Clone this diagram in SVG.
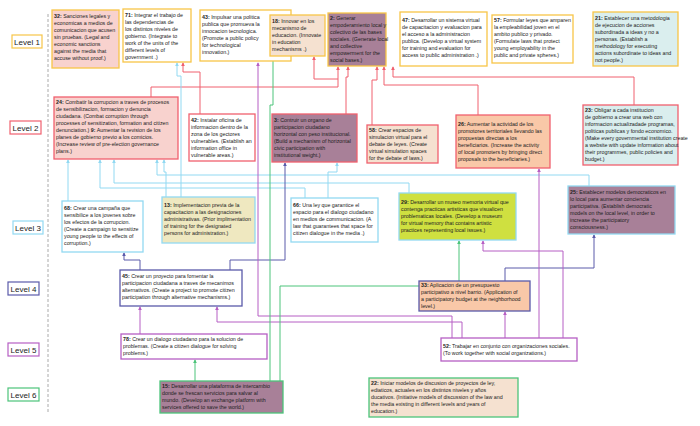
<svg xmlns="http://www.w3.org/2000/svg" width="700" height="426" viewBox="0 0 700 426">
<style>
.t{font-family:"Liberation Sans",Arial,sans-serif;font-size:5.3px;fill:#222}
.b{font-weight:bold}
.lv{font-family:"Liberation Sans",Arial,sans-serif;font-size:8px;fill:#222;text-anchor:middle}
.n{stroke-width:1.3}
.or{stroke:#f7c548}.rd{stroke:#f0606e}.lb{stroke:#92d9f2}.db{stroke:#5a5aaa}.pu{stroke:#b65fc4}.gr{stroke:#4cc47a}
.c{fill:none;stroke-width:1}
</style>
<defs>
<marker id="mr" viewBox="0 0 6 6" refX="5" refY="3" markerWidth="4" markerHeight="4" orient="auto"><path d="M0,0L6,3L0,6z" fill="#f0606e"/></marker>
<marker id="mb" viewBox="0 0 6 6" refX="5" refY="3" markerWidth="4" markerHeight="4" orient="auto"><path d="M0,0L6,3L0,6z" fill="#92d9f2"/></marker>
<marker id="md" viewBox="0 0 6 6" refX="5" refY="3" markerWidth="4" markerHeight="4" orient="auto"><path d="M0,0L6,3L0,6z" fill="#5a5aaa"/></marker>
<marker id="mp" viewBox="0 0 6 6" refX="5" refY="3" markerWidth="4" markerHeight="4" orient="auto"><path d="M0,0L6,3L0,6z" fill="#b65fc4"/></marker>
<marker id="mg" viewBox="0 0 6 6" refX="5" refY="3" markerWidth="4" markerHeight="4" orient="auto"><path d="M0,0L6,3L0,6z" fill="#4cc47a"/></marker>
</defs>
<rect width="700" height="426" fill="#fff"/>
<line x1="48" y1="14" x2="48" y2="412" stroke="#aaa" stroke-dasharray="3,2"/>
<g id="levels" fill="#fff" stroke-width="1.2">
<rect x="12" y="35" width="30" height="13" class="or"/><text x="27" y="44.5" class="lv">Level 1</text>
<rect x="10" y="121" width="31" height="13" class="rd"/><text x="25.5" y="130.5" class="lv">Level 2</text>
<rect x="13" y="221" width="30" height="13" class="lb"/><text x="28" y="230.5" class="lv">Level 3</text>
<rect x="8" y="282" width="31" height="13" class="db"/><text x="23.5" y="291.5" class="lv">Level 4</text>
<rect x="8" y="343" width="31" height="13" class="pu"/><text x="23.5" y="352.5" class="lv">Level 5</text>
<rect x="8" y="388" width="31" height="13" class="gr"/><text x="23.5" y="397.5" class="lv">Level 6</text>
</g>
<g id="connectors">
<path class="c rd" marker-end="url(#mr)" d="M200,114V72H183V63"/>
<path class="c rd" marker-end="url(#mr)" d="M151,97V87H338V67"/>
<path class="c rd" marker-end="url(#mr)" d="M338,79H314V57"/>
<path class="c rd" marker-end="url(#mr)" d="M346,114V77H348V67"/>
<path class="c rd" marker-end="url(#mr)" d="M372,125V80H377V67"/>
<path class="c rd" marker-end="url(#mr)" d="M478,115V85H384V67"/>
<path class="c rd" marker-end="url(#mr)" d="M634,105V77H393V67"/>
<path class="c lb" marker-end="url(#mb)" d="M181,197V76H177V63"/>
<path class="c lb" marker-end="url(#mb)" d="M68,201V160"/>
<path class="c lb" marker-end="url(#mb)" d="M305,198V188H100V160"/>
<path class="c lb" marker-end="url(#mb)" d="M409,193V183H114V160"/>
<path class="c lb" marker-end="url(#mb)" d="M589,186V175H157V160"/>
<path class="c lb" marker-end="url(#mb)" d="M166,197V172H164V160"/>
<path class="c lb" marker-end="url(#mb)" d="M328,198V172H337V163"/>
<path class="c db" marker-end="url(#md)" d="M140,270V260H124V253"/>
<path class="c db" marker-end="url(#md)" d="M230,270V260H285V163"/>
<path class="c db" marker-end="url(#md)" d="M505,281V268H594V235"/>
<path class="c pu" marker-end="url(#mp)" d="M452,338V316H258V63"/>
<path class="c pu" marker-end="url(#mp)" d="M462,338V322H217V307"/>
<path class="c pu" marker-end="url(#mp)" d="M140,334V307"/>
<path class="c pu" marker-end="url(#mp)" d="M505,338V312"/>
<path class="c pu" marker-end="url(#mp)" d="M539,338V169"/>
<path class="c pu" marker-end="url(#mp)" d="M563,338V251H483V241"/>
<path class="c gr" marker-end="url(#mg)" d="M270,381V105H273V57"/>
<path class="c gr" marker-end="url(#mg)" d="M280,381V286H459V241"/>
<path class="c gr" marker-end="url(#mg)" d="M195,381V360"/>
</g>
<g id="n32"><rect x="52" y="10" width="67" height="58" fill="#f8d2ce" class="n or"/><text class="t"><tspan x="54" y="18"><tspan class="b">32:</tspan> Sanciones legales y</tspan><tspan x="54" dy="7">economicas a medios de</tspan><tspan x="54" dy="7">comunicacion que acusen</tspan><tspan x="54" dy="7">sin pruebas. (Legal and</tspan><tspan x="54" dy="7">economic sanctions</tspan><tspan x="54" dy="7">against the media that</tspan><tspan x="54" dy="7">accuse without proof.)</tspan></text></g>
<g id="n71"><rect x="123" y="9" width="68" height="53" fill="#fff" class="n or"/><text class="t"><tspan x="125" y="17"><tspan class="b">71:</tspan> Integrar el trabajo de</tspan><tspan x="125" dy="7">las dependencias de</tspan><tspan x="125" dy="7">los distintos niveles de</tspan><tspan x="125" dy="7">gobierno. (Integrate to</tspan><tspan x="125" dy="7">work of the units of the</tspan><tspan x="125" dy="7">different levels of</tspan><tspan x="125" dy="7">government .)</tspan></text></g>
<g id="n43"><rect x="200" y="10" width="91" height="51" fill="#fff" class="n or"/><text class="t"><tspan x="202" y="19"><tspan class="b">43:</tspan> Impulsar una politica</tspan><tspan x="202" dy="7">publica que promueva la</tspan><tspan x="202" dy="7">innocacion tecnologica.</tspan><tspan x="202" dy="7">(Promote a public policy</tspan><tspan x="202" dy="7">for technological</tspan><tspan x="202" dy="7">innovation.)</tspan></text></g>
<g id="n18"><rect x="270" y="15" width="55" height="41" fill="#f5e1d0" class="n or"/><text class="t"><tspan x="272" y="23"><tspan class="b">18:</tspan> Innovar en los</tspan><tspan x="272" dy="7">mecanismo de</tspan><tspan x="272" dy="7">educacion. (Innovate</tspan><tspan x="272" dy="7">in education</tspan><tspan x="272" dy="7">mechanisms .)</tspan></text></g>
<g id="n2"><rect x="328" y="13" width="58" height="53" fill="#a88098" class="n or"/><text class="t"><tspan x="330" y="20"><tspan class="b">2:</tspan> Generar</tspan><tspan x="330" dy="7">empoderamiento local y</tspan><tspan x="330" dy="7">colectivo de las bases</tspan><tspan x="330" dy="7">sociales. (Generate local</tspan><tspan x="330" dy="7">and collective</tspan><tspan x="330" dy="7">empowerment for the</tspan><tspan x="330" dy="7">social bases.)</tspan></text></g>
<g id="n47"><rect x="400" y="12" width="87" height="54" fill="#fff" class="n or"/><text class="t"><tspan x="402" y="22"><tspan class="b">47:</tspan> Desarrollar un sistema virtual</tspan><tspan x="402" dy="7">de capacitacion y evaluacion para</tspan><tspan x="402" dy="7">el acceso a la administracion</tspan><tspan x="402" dy="7">publica. (Develop a virtual system</tspan><tspan x="402" dy="7">for training and evaluation for</tspan><tspan x="402" dy="7">access to public administration .)</tspan></text></g>
<g id="n57"><rect x="492" y="15" width="81" height="48" fill="#fff" class="n or"/><text class="t"><tspan x="494" y="22"><tspan class="b">57:</tspan> Formular leyes que amparen</tspan><tspan x="494" dy="7">la empleabilidad joven en el</tspan><tspan x="494" dy="7">ambito publico y privado.</tspan><tspan x="494" dy="7">(Formulate laws that protect</tspan><tspan x="494" dy="7">young employability in the</tspan><tspan x="494" dy="7">public and private spheres.)</tspan></text></g>
<g id="n21"><rect x="593" y="12" width="85" height="54" fill="#daeeee" class="n or"/><text class="t"><tspan x="595" y="20"><tspan class="b">21:</tspan> Establecer una metodologia</tspan><tspan x="595" dy="7">de ejecucion de acciones</tspan><tspan x="595" dy="7">subordinada a ideas y no a</tspan><tspan x="595" dy="7">personas. (Establish a</tspan><tspan x="595" dy="7">methodology for executing</tspan><tspan x="595" dy="7">actions subordinate to ideas and</tspan><tspan x="595" dy="7">not people.)</tspan></text></g>
<g id="n24"><rect x="54" y="97" width="124" height="62" fill="#f8d2ce" class="n rd"/><text class="t"><tspan x="56" y="104"><tspan class="b">24:</tspan> Combatir la corrupcion a traves de procesos</tspan><tspan x="56" dy="7">de sensibilizacion, formacion y denuncia</tspan><tspan x="56" dy="7">ciudadana. (Combat corruption through</tspan><tspan x="56" dy="7">processes of sensitization, formation and citizen</tspan><tspan x="56" dy="7">denunciation.) <tspan class="b">9:</tspan> Aumentar la revision de los</tspan><tspan x="56" dy="7">planes de gobierno previo a los comicios.</tspan><tspan x="56" dy="7">(Increase review of pre-election governance</tspan><tspan x="56" dy="7">plans.)</tspan></text></g>
<g id="n42"><rect x="189" y="114" width="66" height="47" fill="#fff" class="n rd"/><text class="t"><tspan x="191" y="122"><tspan class="b">42:</tspan> Instalar oficina de</tspan><tspan x="191" dy="7">informacion dentro de la</tspan><tspan x="191" dy="7">zona de los gectores</tspan><tspan x="191" dy="7">vulnerables. (Establish an</tspan><tspan x="191" dy="7">information office in</tspan><tspan x="191" dy="7">vulnerable areas.)</tspan></text></g>
<g id="n3"><rect x="272" y="114" width="85" height="48" fill="#a88098" class="n rd"/><text class="t"><tspan x="274" y="122"><tspan class="b">3:</tspan> Contruir un organo de</tspan><tspan x="274" dy="7">participacion ciudadano</tspan><tspan x="274" dy="7">horizontal con peso institucional.</tspan><tspan x="274" dy="7">(Build a mechanism of horizontal</tspan><tspan x="274" dy="7">civic participation with</tspan><tspan x="274" dy="7">institutional weight.)</tspan></text></g>
<g id="n58"><rect x="367" y="125" width="71" height="38" fill="#f5e1d0" class="n rd"/><text class="t"><tspan x="369" y="132"><tspan class="b">58:</tspan> Crear espacios de</tspan><tspan x="369" dy="7">simulacion virtual para el</tspan><tspan x="369" dy="7">debate de leyes. (Create</tspan><tspan x="369" dy="7">virtual simulation spaces</tspan><tspan x="369" dy="7">for the debate of laws.)</tspan></text></g>
<g id="n26"><rect x="456" y="115" width="94" height="53" fill="#f9c8a8" class="n rd"/><text class="t"><tspan x="458" y="126"><tspan class="b">26:</tspan> Aumentar la actividad de los</tspan><tspan x="458" dy="7">promotores territoriales llevando las</tspan><tspan x="458" dy="7">propuestas directas a los</tspan><tspan x="458" dy="7">beneficiarios. (Increase the activity</tspan><tspan x="458" dy="7">of local promoters by bringing direct</tspan><tspan x="458" dy="7">proposals to the beneficiaries.)</tspan></text></g>
<g id="n23"><rect x="583" y="105" width="95" height="60" fill="#daeeee" class="n rd"/><text class="t"><tspan x="585" y="112"><tspan class="b">23:</tspan> Obligar a cada institucion</tspan><tspan x="585" dy="7">de gobierno a crear una web con</tspan><tspan x="585" dy="7">informacion actualizadade programas,</tspan><tspan x="585" dy="7">politicas publicas y fondo economico.</tspan><tspan x="585" dy="7">(Make every governmental institution create</tspan><tspan x="585" dy="7">a website with update information about</tspan><tspan x="585" dy="7">their programmes, public policies and</tspan><tspan x="585" dy="7">budget.)</tspan></text></g>
<g id="n68"><rect x="62" y="201" width="81" height="51" fill="#fff" class="n lb"/><text class="t"><tspan x="64" y="210"><tspan class="b">68:</tspan> Crear una campaña que</tspan><tspan x="64" dy="7">sensibilice a los jovenes sobre</tspan><tspan x="64" dy="7">los efectos de la corrupcion.</tspan><tspan x="64" dy="7">(Create a campaign to sensitize</tspan><tspan x="64" dy="7">young people to the effects of</tspan><tspan x="64" dy="7">corruption.)</tspan></text></g>
<g id="n13"><rect x="162" y="197" width="93" height="46" fill="#efe8c0" class="n lb"/><text class="t"><tspan x="164" y="207"><tspan class="b">13:</tspan> Implementacion previa de la</tspan><tspan x="164" dy="7">capacitacion a las designaciones</tspan><tspan x="164" dy="7">administrativas. (Prior implimentation</tspan><tspan x="164" dy="7">of training for the designated</tspan><tspan x="164" dy="7">persons for administration.)</tspan></text></g>
<g id="n66"><rect x="291" y="198" width="87" height="44" fill="#fff" class="n lb"/><text class="t"><tspan x="293" y="207"><tspan class="b">66:</tspan> Una ley que garantice el</tspan><tspan x="293" dy="7">espacio para el dialogo ciudadano</tspan><tspan x="293" dy="7">en medios de communicacion. (A</tspan><tspan x="293" dy="7">law that guarantees that space for</tspan><tspan x="293" dy="7">citizen dialogue in the media .)</tspan></text></g>
<g id="n29"><rect x="399" y="193" width="117" height="47" fill="#cfe040" class="n lb"/><text class="t"><tspan x="401" y="204"><tspan class="b">29:</tspan> Desarrollar un museo memoria virtual que</tspan><tspan x="401" dy="7">contenga practicas artisticas que visualicen</tspan><tspan x="401" dy="7">problematicas locales. (Develop a museum</tspan><tspan x="401" dy="7">for virtual memory that contains artistic</tspan><tspan x="401" dy="7">practices representing local issues.)</tspan></text></g>
<g id="n25"><rect x="568" y="186" width="107" height="48" fill="#a88098" class="n lb"/><text class="t"><tspan x="570" y="194"><tspan class="b">25:</tspan> Establecer modelos democraticos en</tspan><tspan x="570" dy="7">lo local para aumentar conciencia</tspan><tspan x="570" dy="7">participativa. (Establish democratic</tspan><tspan x="570" dy="7">models on the local level, in order to</tspan><tspan x="570" dy="7">increase the participatory</tspan><tspan x="570" dy="7">consciousness.)</tspan></text></g>
<g id="n45"><rect x="120" y="270" width="122" height="36" fill="#fff" class="n db"/><text class="t"><tspan x="122" y="278"><tspan class="b">45:</tspan> Crear un proyecto para fomentar la</tspan><tspan x="122" dy="7">participacion ciudadana a traves de mecanimos</tspan><tspan x="122" dy="7">alternativos. (Create a project to promote citizen</tspan><tspan x="122" dy="7">participation through alternative mechanisms.)</tspan></text></g>
<g id="n33"><rect x="419" y="281" width="111" height="30" fill="#f9c8a8" class="n db"/><text class="t"><tspan x="421" y="287"><tspan class="b">33:</tspan> Aplicacion de un presupuesto</tspan><tspan x="421" dy="7">participativo a nivel barrio. (Application of</tspan><tspan x="421" dy="7">a participatory budget at the neighborhood</tspan><tspan x="421" dy="7">level.)</tspan></text></g>
<g id="n78"><rect x="121" y="334" width="146" height="25" fill="#fff" class="n pu"/><text class="t"><tspan x="123" y="341"><tspan class="b">78:</tspan> Crear un dialogo ciudadano para la solucion de</tspan><tspan x="123" dy="7">problemas. (Create a citizen dialogue for solving</tspan><tspan x="123" dy="7">problems.)</tspan></text></g>
<g id="n52"><rect x="441" y="338" width="136" height="23" fill="#fff" class="n pu"/><text class="t"><tspan x="443" y="348"><tspan class="b">52:</tspan> Trabajar en conjunto con organizaciones sociales.</tspan><tspan x="443" dy="7">(To work together with social organizations.)</tspan></text></g>
<g id="n15"><rect x="160" y="381" width="123" height="32" fill="#a88098" class="n gr"/><text class="t"><tspan x="162" y="388"><tspan class="b">15:</tspan> Desarrollar una plataforma de intercambio</tspan><tspan x="162" dy="7">donde se frescan servicios para salvar al</tspan><tspan x="162" dy="7">mundo. (Develop an exchange platform with</tspan><tspan x="162" dy="7">services offered to save the world.)</tspan></text></g>
<g id="n22"><rect x="369" y="378" width="149" height="39" fill="#f5e1d0" class="n gr"/><text class="t"><tspan x="371" y="385"><tspan class="b">22:</tspan> Iniciar modelos de discusion de proyectos de ley,</tspan><tspan x="371" dy="7">ediaticos, actuales en los distintos niveles y años</tspan><tspan x="371" dy="7">ducativos. (Initiative models of discussion of the law and</tspan><tspan x="371" dy="7">the media existing in different levels and years of</tspan><tspan x="371" dy="7">education.)</tspan></text></g>
</svg>
